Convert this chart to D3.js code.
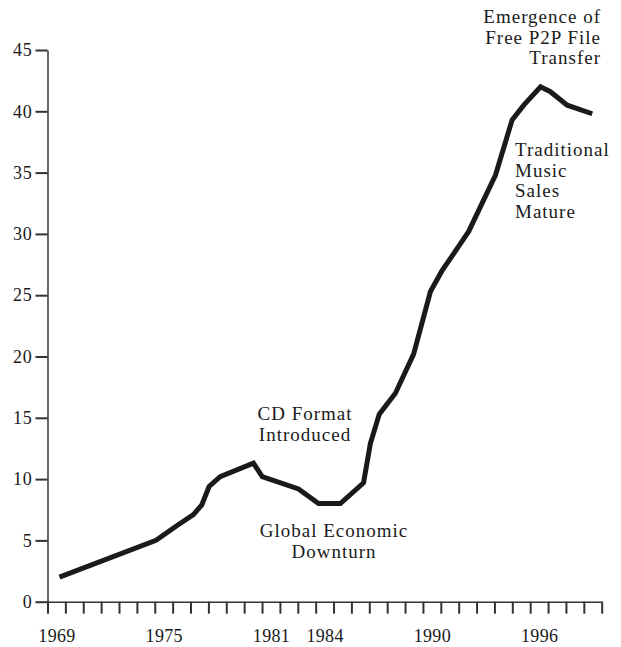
<!DOCTYPE html>
<html>
<head>
<meta charset="utf-8">
<script src="https://cdn.jsdelivr.net/npm/d3@7"></script>
<style>
    html, body { margin: 0; padding: 0; background: #fff; }
    svg text { font-family: "Liberation Serif", "Times New Roman", serif; fill: #1a1a1a; }
</style>
</head>
<body>
<svg id="chart" width="621" height="647"></svg>
<script>
// Values (year is fractional where the vertex sits between ticks)
const saleYears = [1969.67, 1975.07, 1976.23, 1977.16, 1977.63, 1978.04, 1978.66, 1980.52, 1981.01,
    1983.04, 1984.16, 1985.38, 1986.68, 1987.06, 1987.56, 1988.46, 1989.48, 1990.42, 1991.07,
    1992.10, 1992.56, 1994.06, 1994.99, 1995.64, 1996.58, 1997.13, 1998.07, 1999.47];
const saleValues = [2.0, 5.0, 6.2, 7.1, 7.9, 9.4, 10.2, 11.3, 10.2,
    9.2, 8.0, 8.0, 9.7, 12.9, 15.3, 17.0, 20.2, 25.3, 27.0,
    29.2, 30.2, 34.8, 39.3, 40.5, 42.0, 41.6, 40.5, 39.8];

const tickYears = [1969, 1970, 1971, 1972, 1973, 1974, 1975, 1976, 1977, 1978, 1979, 1980,
    1981, 1982, 1983, 1984, 1985, 1986, 1987, 1988, 1989, 1990, 1991, 1992, 1993, 1994,
    1995, 1996, 1997, 1998, 1999, 2000];
const labelYears = [1969, 1975, 1981, 1984, 1990, 1996];
const yTicks = [0, 5, 10, 15, 20, 25, 30, 35, 40, 45];

const cdNote = ['CD Format', 'Introduced'];
const downturnNote = ['Global Economic', 'Downturn'];
const p2pNote = ['Emergence of', 'Free P2P File', 'Transfer'];
const matureNote = ['Traditional', 'Music', 'Sales', 'Mature'];

class SalesChart {
    constructor() {
        this.svg = d3.select('#chart');
        this.x = d3.scaleLinear().domain([1969, 2000]).range([47.5, 601.7]);
        this.y = d3.scaleLinear().domain([0, 45]).range([601.7, 50]);
        this.drawAxes();
        this.drawLine();
        this.drawNotes();
    }

    drawAxes() {
        const svg = this.svg;

        // y axis, ticks pointing left
        const yAxis = svg.append('g')
            .attr('transform', `translate(${this.x(1969)},0)`)
            .call(d3.axisLeft(this.y).tickValues(yTicks).tickSize(12).tickSizeOuter(0).tickPadding(3))
            .attr('font-family', null)
            .attr('font-size', 18);
        yAxis.select('.domain').attr('stroke', '#333').attr('stroke-width', 1.5);
        yAxis.selectAll('.tick line').attr('stroke', '#333').attr('stroke-width', 2);
        yAxis.selectAll('text').style('letter-spacing', '0.8px');

        // x axis, a tick for every year
        const xAxis = svg.append('g')
            .attr('transform', `translate(0,${this.y(0)})`)
            .call(d3.axisBottom(this.x).tickValues(tickYears).tickSize(12).tickSizeOuter(0).tickFormat(''));
        xAxis.select('.domain').attr('stroke', '#333').attr('stroke-width', 1.5);
        xAxis.selectAll('.tick line').attr('stroke', '#333').attr('stroke-width', 2);

        // year labels sit in the middle of their year
        const labels = svg.append('g')
            .attr('transform', `translate(0,${this.y(0)})`)
            .call(d3.axisBottom(this.x)
                .tickValues(labelYears.map(d => d + 0.5))
                .tickSize(0)
                .tickPadding(28)
                .tickFormat(d => String(Math.floor(d))))
            .attr('font-family', null)
            .attr('font-size', 18);
        labels.select('.domain').remove();
        labels.selectAll('text').style('letter-spacing', '0.3px');
    }

    drawLine() {
        const data = saleYears.map((yr, i) => ({ year: yr, value: saleValues[i] }));
        const line = d3.line()
            .x(d => this.x(d.year))
            .y(d => this.y(d.value));

        this.svg.append('path')
            .datum(data)
            .attr('fill', 'none')
            .attr('stroke', '#1a1a1a')
            .attr('stroke-width', 5)
            .attr('stroke-linejoin', 'miter')
            .attr('d', line);
    }

    addNote(lines, px, py, anchor) {
        const text = this.svg.append('text')
            .attr('text-anchor', anchor)
            .style('font-size', '19px')
            .style('letter-spacing', '1px');
        lines.forEach((t, i) => {
            text.append('tspan')
                .attr('x', px)
                .attr('y', py + i * 20.6)
                .text(t);
        });
    }

    drawNotes() {
        this.addNote(cdNote, 305, 420, 'middle');
        this.addNote(downturnNote, 334, 537, 'middle');
        this.addNote(p2pNote, 601, 23, 'end');
        this.addNote(matureNote, 515, 156, 'start');
    }
}

new SalesChart();
</script>
</body>
</html>
